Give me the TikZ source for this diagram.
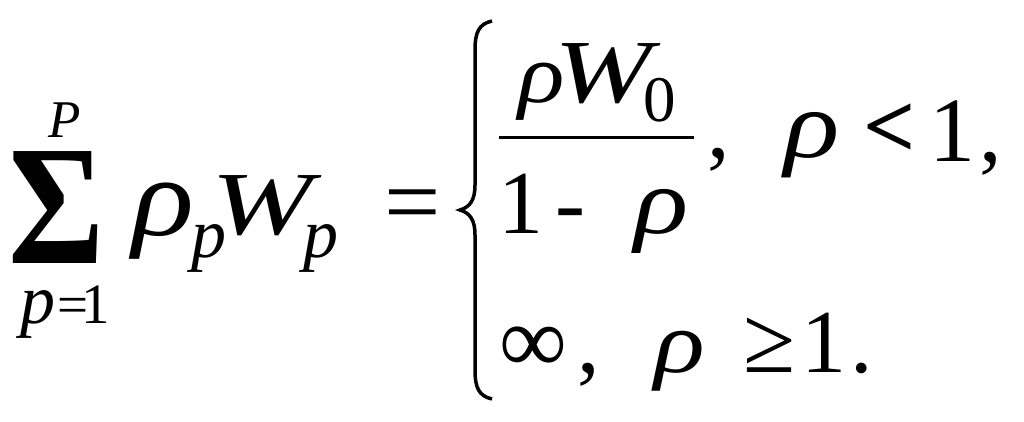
\documentclass[tikz,border=0pt]{standalone}
\usepackage{fontspec}
\setmainfont{Liberation Serif}[ItalicFont={Liberation Serif Italic}]

\begin{document}
\begin{tikzpicture}[x=1pt, y=-1pt]
            \useasboundingbox (0,0) rectangle (1024,422);
            \tikzset{glyph/.style={inner sep=0pt, anchor=base}}

            % italic letters: centre/baseline/size/xscale/text/name
            \foreach \x/\y/\s/\k/\t/\n in {65/138/53/1/P/top,163/235/112/1.15/ρ/rho,209/257/70/1/p/subA,262/234/90/1.35/W/w,321/257/70/1/p/subB,38/323/70/1/p/low,542/103/84/1.15/ρ/numrho,603/103/90/1.3/W/numw,662/233/94/1.2/ρ/denrho,812/158/96/1.2/ρ/rhoA,680/372/88/1.2/ρ/rhoB} {
            \node[glyph, font=\fontsize{\s}{\s}\selectfont\itshape, xscale=\k] (\n) at (\x,\y) {\t};}

            % upright signs and digits
            \foreach \x/\y/\s/\t/\n in {413/235/100/=/eq,73/323/55/=/loweq,96/323/57/1/lowone,660/122/65/0/zero,521/233/90/1/one,570/233/90/-/minus,719/158/90/{,}/commaA,952/161/92/1/oneA,991/161/90/{,}/commaB,533/372/95/∞/inf,589/372/90/{,}/commaC,770/372/95/≥/geq,824/372/90/1/oneB,862/372/90/./dot} {
            \node[glyph, font=\fontsize{\s}{\s}\selectfont] (\n) at (\x,\y) {\t};}

            \node[glyph, font=\fontsize{92}{92}\selectfont\bfseries] (less) at (890,158) {<};
            \node[glyph, font=\fontsize{171}{171}\selectfont\bfseries, xscale=.86] (sum) at (57,263) {Σ};

            % fraction bar and brace
            \draw [line width=3pt,black] (499,138) coordinate (barL) -- (694,138) coordinate (barR);
            \draw [line width=3.5pt,black] (492,21) .. controls (479,24) and (475,32) .. (475,50) -- (475,185)
                .. controls (475,200) and (470,207) .. (460,210) .. controls (470,213) and (475,220) .. (475,235)
                -- (475,370) .. controls (475,388) and (479,396) .. (492,399);
        \end{tikzpicture}
\end{document}
